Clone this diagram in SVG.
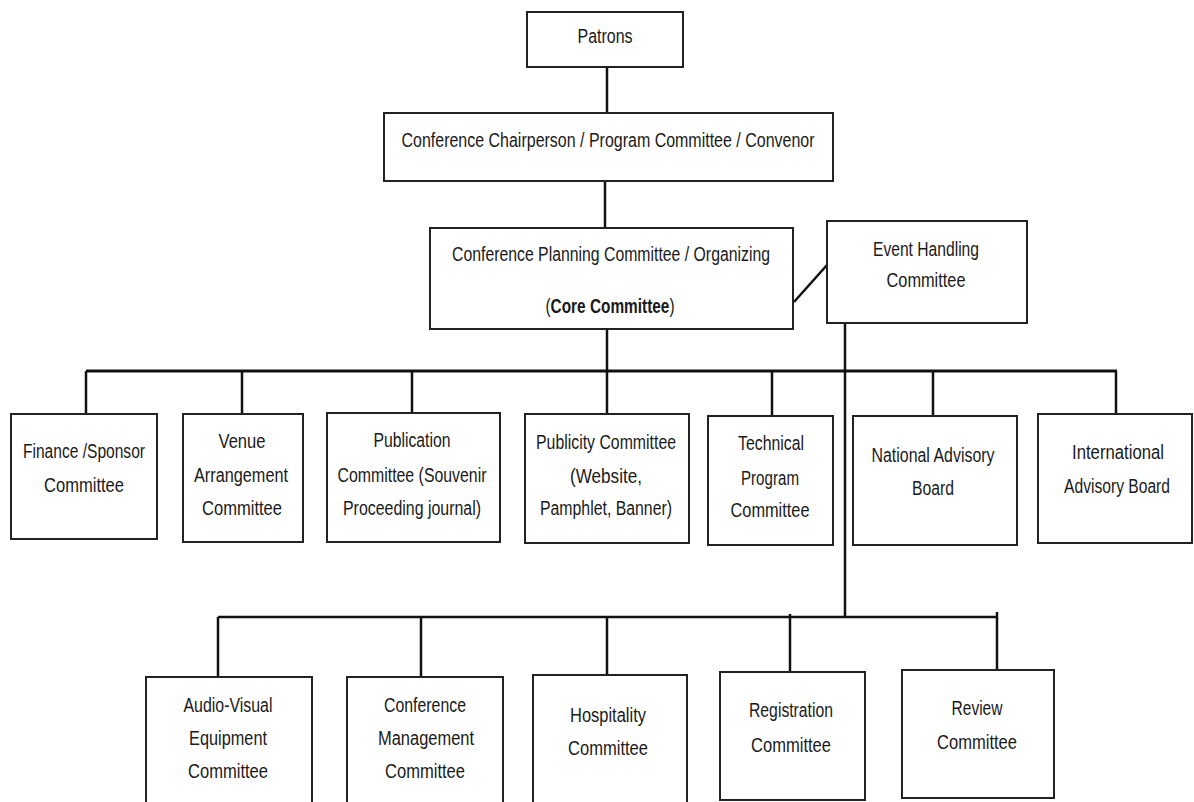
<svg xmlns="http://www.w3.org/2000/svg" width="1194" height="802" viewBox="0 0 1194 802">
<style>
.box{fill:#fff;stroke:#222;stroke-width:2}
.ln{stroke:#111;stroke-width:2.5;fill:none}
.bus{stroke:#111;stroke-width:3;fill:none}
text{font-family:"Liberation Sans",Arial,sans-serif;font-size:20px;fill:#1a1a1a;text-anchor:middle}
.b{font-weight:bold}
</style>
<rect width="1194" height="802" fill="#fff"/>
<g id="connectors">
<line class="ln" x1="607" y1="67" x2="607" y2="113"/>
<line class="ln" x1="605" y1="181" x2="605" y2="228"/>
<line class="ln" x1="794" y1="302" x2="827" y2="265"/>
<line class="ln" x1="607" y1="329" x2="607" y2="414"/>
<line class="bus" x1="86" y1="371" x2="1117" y2="371"/>
<line class="ln" x1="86" y1="371" x2="86" y2="414"/>
<line class="ln" x1="242" y1="371" x2="242" y2="414"/>
<line class="ln" x1="412" y1="371" x2="412" y2="413"/>
<line class="ln" x1="772" y1="371" x2="772" y2="416"/>
<line class="ln" x1="933" y1="371" x2="933" y2="416"/>
<line class="ln" x1="1116" y1="371" x2="1116" y2="414"/>
<line class="ln" x1="845" y1="323" x2="845" y2="618"/>
<line class="ln" x1="218" y1="617" x2="997" y2="617"/>
<line class="ln" x1="997" y1="612" x2="997" y2="670"/>
<line class="ln" x1="218" y1="617" x2="218" y2="677"/>
<line class="ln" x1="421" y1="617" x2="421" y2="677"/>
<line class="ln" x1="607" y1="617" x2="607" y2="675"/>
<line class="ln" x1="790" y1="614" x2="790" y2="672"/>
</g>
<g id="patrons"><rect class="box" x="527" y="12" width="156" height="55"/><text x="605" y="43" textLength="55" lengthAdjust="spacingAndGlyphs">Patrons</text></g>
<g id="chair"><rect class="box" x="384" y="113" width="449" height="68"/><text x="608" y="147" textLength="413" lengthAdjust="spacingAndGlyphs">Conference Chairperson / Program Committee / Convenor</text></g>
<g id="planning"><rect class="box" x="430" y="228" width="363" height="101"/><text x="611" y="261" textLength="318" lengthAdjust="spacingAndGlyphs">Conference Planning Committee / Organizing</text><text transform="translate(610 313) scale(0.77 1)" x="0" y="0">(<tspan class="b">Core Committee</tspan>)</text></g>
<g id="event"><rect class="box" x="827" y="221" width="200" height="102"/><text x="926" y="256" textLength="106" lengthAdjust="spacingAndGlyphs">Event Handling</text><text x="926" y="287" textLength="79" lengthAdjust="spacingAndGlyphs">Committee</text></g>
<g id="finance"><rect class="box" x="11" y="414" width="146" height="125"/><text x="84" y="458" textLength="122" lengthAdjust="spacingAndGlyphs">Finance /Sponsor</text><text x="84" y="492" textLength="80" lengthAdjust="spacingAndGlyphs">Committee</text></g>
<g id="venue"><rect class="box" x="183" y="414" width="120" height="128"/><text x="242" y="448" textLength="47" lengthAdjust="spacingAndGlyphs">Venue</text><text x="241" y="482" textLength="94" lengthAdjust="spacingAndGlyphs">Arrangement</text><text x="242" y="515" textLength="80" lengthAdjust="spacingAndGlyphs">Committee</text></g>
<g id="publication"><rect class="box" x="327" y="413" width="173" height="129"/><text x="412" y="447" textLength="77" lengthAdjust="spacingAndGlyphs">Publication</text><text x="412" y="482" textLength="149" lengthAdjust="spacingAndGlyphs">Committee (Souvenir</text><text x="412" y="515" textLength="138" lengthAdjust="spacingAndGlyphs">Proceeding journal)</text></g>
<g id="publicity"><rect class="box" x="525" y="414" width="164" height="129"/><text x="606" y="449" textLength="140" lengthAdjust="spacingAndGlyphs">Publicity Committee</text><text x="606" y="483" textLength="72" lengthAdjust="spacingAndGlyphs">(Website,</text><text x="606" y="515" textLength="132" lengthAdjust="spacingAndGlyphs">Pamphlet, Banner)</text></g>
<g id="technical"><rect class="box" x="708" y="416" width="125" height="129"/><text x="771" y="450" textLength="66" lengthAdjust="spacingAndGlyphs">Technical</text><text x="770" y="485" textLength="58" lengthAdjust="spacingAndGlyphs">Program</text><text x="770" y="517" textLength="79" lengthAdjust="spacingAndGlyphs">Committee</text></g>
<g id="national"><rect class="box" x="853" y="416" width="164" height="129"/><text x="933" y="462" textLength="123" lengthAdjust="spacingAndGlyphs">National Advisory</text><text x="933" y="495" textLength="42" lengthAdjust="spacingAndGlyphs">Board</text></g>
<g id="international"><rect class="box" x="1038" y="414" width="154" height="129"/><text x="1118" y="459" textLength="92" lengthAdjust="spacingAndGlyphs">International</text><text transform="translate(1117 493) scale(0.782 1)" x="0" y="0">Advisory Board</text></g>
<g id="audiovisual"><rect class="box" x="146" y="677" width="166" height="140"/><text x="228" y="712" textLength="89" lengthAdjust="spacingAndGlyphs">Audio-Visual</text><text x="228" y="745" textLength="78" lengthAdjust="spacingAndGlyphs">Equipment</text><text x="228" y="778" textLength="80" lengthAdjust="spacingAndGlyphs">Committee</text></g>
<g id="confmgmt"><rect class="box" x="347" y="677" width="156" height="140"/><text x="425" y="712" textLength="82" lengthAdjust="spacingAndGlyphs">Conference</text><text x="426" y="745" textLength="96" lengthAdjust="spacingAndGlyphs">Management</text><text x="425" y="778" textLength="80" lengthAdjust="spacingAndGlyphs">Committee</text></g>
<g id="hospitality"><rect class="box" x="533" y="675" width="154" height="140"/><text x="608" y="722" textLength="76" lengthAdjust="spacingAndGlyphs">Hospitality</text><text x="608" y="755" textLength="80" lengthAdjust="spacingAndGlyphs">Committee</text></g>
<g id="registration"><rect class="box" x="720" y="672" width="145" height="128"/><text x="791" y="717" textLength="84" lengthAdjust="spacingAndGlyphs">Registration</text><text x="791" y="752" textLength="80" lengthAdjust="spacingAndGlyphs">Committee</text></g>
<g id="review"><rect class="box" x="902" y="670" width="152" height="128"/><text x="977" y="715" textLength="51" lengthAdjust="spacingAndGlyphs">Review</text><text x="977" y="749" textLength="80" lengthAdjust="spacingAndGlyphs">Committee</text></g>
</svg>
